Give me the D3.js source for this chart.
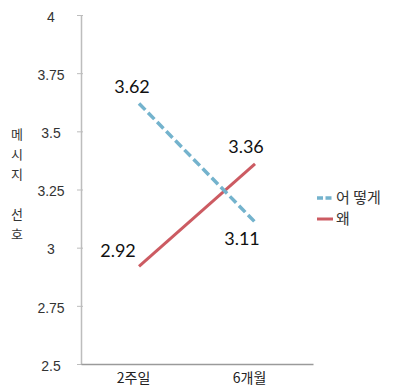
<!DOCTYPE html>
<html><head><meta charset="utf-8">
<script src="https://cdn.jsdelivr.net/npm/d3@7"></script>
<style>body{margin:0;background:#fff}</style>
</head><body>
<svg id="c" width="395" height="391"></svg>
<script>
const categories = ["2주일", "6개월"];
const seriesNames = ["어 떻게", "왜"];
const howValues = [3.62, 3.11];
const whyValues = [2.92, 3.36];
const yTicks = [2.5, 2.75, 3, 3.25, 3.5, 3.75, 4];
const yTickLabels = ["2.5", "2.75", "3", "3.25", "3.5", "3.75", "4"];
const yTitle = ["메", "시", "지", " ", "선", "호"];

const svg = d3.select("#c");
const x = d3.scalePoint().domain(categories).range([81, 313]).padding(0.5);
const y = d3.scaleLinear().domain([2.5, 4]).range([364, 15]);
const kfont = "'Noto Sans CJK KR', sans-serif";
const nfont = "Lato, 'Open Sans', sans-serif";

// y axis
const yAxis = d3.axisLeft(y).tickValues(yTicks).tickSize(0).tickFormat("");
const ya = svg.append("g").attr("transform", "translate(81,0)").call(yAxis);
ya.select(".domain").attr("stroke", "#bdbdbd").attr("stroke-width", 1.5);
ya.selectAll(".tick").append("line").attr("x1", -4).attr("x2", 2).attr("stroke", "#bdbdbd");
ya.selectAll(".tick").append("text")
  .attr("x", -30).attr("dy", "0.45em").attr("text-anchor", "middle")
  .attr("fill", "#333").attr("font-family", "'Liberation Sans', Arial, sans-serif").attr("font-size", 14)
  .text((d, i) => yTickLabels[i]);

// x axis
const xAxis = d3.axisBottom(x).tickSize(0).tickFormat("");
const xa = svg.append("g").attr("transform", "translate(0,364)").call(xAxis);
xa.select(".domain").attr("stroke", "#9a9a9a").attr("stroke-width", 1.5);
xa.selectAll(".tick").append("text")
  .attr("x", -6).attr("y", 19).attr("text-anchor", "middle")
  .attr("fill", "#222").attr("font-family", kfont).attr("font-size", 14)
  .text(d => d);

// y title
svg.append("g").selectAll("text").data(yTitle).join("text")
  .attr("x", 17).attr("y", (d, i) => 139 + i * 20)
  .attr("text-anchor", "middle").attr("fill", "#333")
  .attr("font-family", kfont).attr("font-size", 13)
  .text(d => d);

const line = d3.line().x((d, i) => x(categories[i])).y(d => y(d));
svg.append("path").datum(whyValues).attr("d", line)
  .attr("fill", "none").attr("stroke", "#cc5b62").attr("stroke-width", 3);
svg.append("path").datum(howValues).attr("d", line)
  .attr("fill", "none").attr("stroke", "#74b3cd").attr("stroke-width", 3.5)
  .attr("stroke-dasharray", "9,4");

// value labels
const lab = (vals, offs) => vals.forEach((v, i) => {
  svg.append("text")
    .attr("x", x(categories[i]) + offs[i][0]).attr("y", y(v) + offs[i][1])
    .attr("text-anchor", "middle").attr("fill", "#111")
    .attr("font-family", nfont).attr("font-size", 18)
    .text(v.toFixed(2));
});
lab(howValues, [[-7, -10], [-13, 23]]);
lab(whyValues, [[-21, -9], [-9, -11]]);

// legend
const lg = svg.append("g");
lg.append("line").attr("x1", 317).attr("x2", 333).attr("y1", 198).attr("y2", 198)
  .attr("stroke", "#74b3cd").attr("stroke-width", 3.5).attr("stroke-dasharray", "6,2.5");
lg.append("line").attr("x1", 317).attr("x2", 333).attr("y1", 219).attr("y2", 219)
  .attr("stroke", "#cc5b62").attr("stroke-width", 3);
lg.selectAll("text.l").data(seriesNames).join("text")
  .attr("x", 336).attr("y", (d, i) => 198 + i * 21).attr("dy", "0.36em")
  .attr("fill", "#333").attr("font-family", kfont).attr("font-size", 15)
  .text(d => d);
</script>
</body></html>
